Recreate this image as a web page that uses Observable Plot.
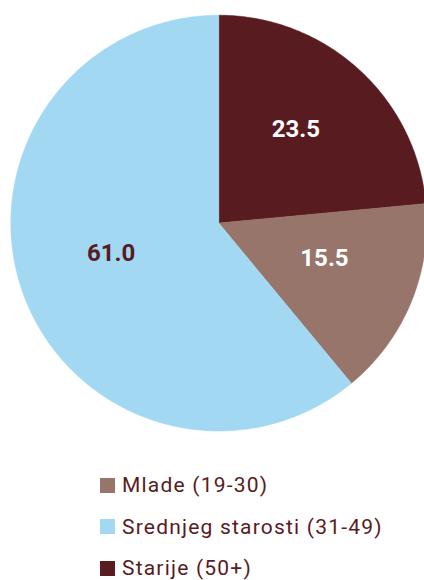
<!DOCTYPE html>
<html><head><meta charset="utf-8">
<script src="https://cdn.jsdelivr.net/npm/d3@7"></script>
<script src="https://cdn.jsdelivr.net/npm/@observablehq/plot@0.6"></script>
<style>
body{margin:0;background:#fff;font-family:Roboto,"DejaVu Sans",sans-serif}
#legend{position:relative;height:140px}
.row{position:absolute;left:100px;display:flex;align-items:center;color:#581b1f;font-size:21px;letter-spacing:1.2px;white-space:nowrap}
.sw{width:15px;height:15px;margin-right:7px}
</style>
</head><body><div id="chart"></div><div id="legend"></div><script>
const categories = ["Starije (50+)", "Mlade (19-30)", "Srednjeg starosti (31-49)"];
const values = [23.5, 15.5, 61.0];
const labels = ["23.5", "15.5", "61.0"];
const colors = ["#581b1f", "#97756a", "#a3d8f3"];
const labelColors = ["#ffffff", "#ffffff", "#581b1f"];
const legendOrder = ["Mlade (19-30)", "Srednjeg starosti (31-49)", "Starije (50+)"];

const rows = categories.map((c, i) => ({category: c, value: values[i], label: labels[i], lc: labelColors[i]}));
const arcs = d3.pie().sort(null).value(d => d.value)(rows);
const pts = [];
for (const a of arcs) {
  const n = Math.max(2, Math.ceil((a.endAngle - a.startAngle) * 80));
  pts.push({category: a.data.category, x: 0, y: 0});
  for (let k = 0; k <= n; k++) {
    const t = a.startAngle + (a.endAngle - a.startAngle) * k / n;
    pts.push({category: a.data.category, x: Math.sin(t), y: Math.cos(t)});
  }
  pts.push({category: a.data.category, x: 0, y: 0});
}
const lab = arcs.map(a => {
  const m = (a.startAngle + a.endAngle) / 2;
  const r = 0.55;
  return {x: r * Math.sin(m), y: r * Math.cos(m), label: a.data.label, lc: a.data.lc};
});

const plot = Plot.plot({
  width: 424, height: 440,
  margin: 0,
  axis: null,
  x: {domain: [-1, 1], range: [10.3, 426.3]},
  y: {domain: [-1, 1], range: [430.5, 14.7]},
  color: {domain: categories, range: colors},
  marks: [
    Plot.line(pts, {x: "x", y: "y", z: "category", fill: "category", stroke: "category", strokeWidth: 0.5}),
    Plot.text(lab, {x: "x", y: "y", dy: -9, text: "label", fill: "lc", fontSize: 24, fontWeight: "bold", fontFamily: "Roboto"})
  ],
  style: {overflow: "visible"}
});
document.getElementById("chart").appendChild(plot);

const leg = document.getElementById("legend");
legendOrder.forEach((c, i) => {
  const row = document.createElement("div");
  row.className = "row";
  row.style.top = (33 + i * 41.5) + "px";
  const sw = document.createElement("div");
  sw.className = "sw";
  sw.style.background = colors[categories.indexOf(c)];
  const tx = document.createElement("span");
  tx.textContent = c;
  row.appendChild(sw); row.appendChild(tx);
  leg.appendChild(row);
});
</script></body></html>
